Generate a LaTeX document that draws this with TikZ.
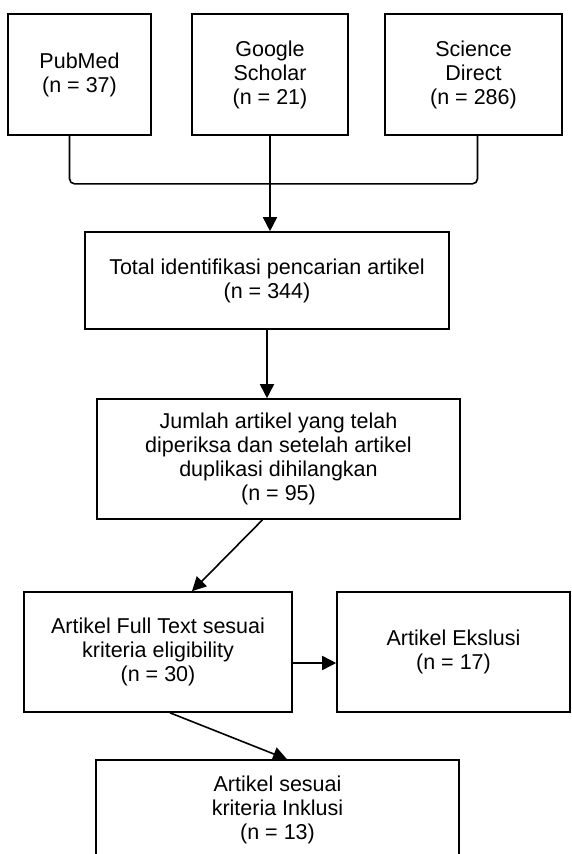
\documentclass[tikz,border=0pt]{standalone}
\usepackage{fontspec}
\setmainfont{Liberation Sans}
\usetikzlibrary{positioning,arrows.meta,calc}

\begin{document}
\begin{tikzpicture}[
  x=1pt, y=-1pt,
  every node/.style={font=\fontsize{21.5}{24}\selectfont},
  box/.style={
    draw, line width=1.6pt, align=center, inner sep=0pt,
    minimum height=121pt,
  },
  arrow/.style={-{Triangle[length=14pt,width=14pt]}, line width=1.6pt},
  bracket/.style={line width=1.6pt, rounded corners=5pt},
]
  \clip (0,0) rectangle (572,854);

  % sumber pencarian
  \node[box, minimum width=143pt] (pubmed)  at (79.5,74.5)  {PubMed\\(n = 37)};
  \node[box, minimum width=156pt] (google)  at (270,74.5)   {Google\\Scholar\\(n = 21)};
  \node[box, minimum width=177pt] (science) at (473.5,74.5) {Science\\Direct\\(n = 286)};

  \node[box, minimum width=364pt, minimum height=97pt]  (total)    at (267,280.5)
    {Total identifikasi pencarian artikel\\(n = 344)};
  \node[box, minimum width=363pt, minimum height=120pt] (jumlah)   at (278.5,459)
    {Jumlah artikel yang telah\\diperiksa dan setelah artikel\\duplikasi dihilangkan\\(n = 95)};
  \node[box, minimum width=268pt, minimum height=120pt] (fulltext) at (158,652)
    {Artikel Full Text sesuai\\kriteria eligibility\\(n = 30)};
  \node[box, minimum width=233pt, minimum height=120pt] (ekslusi)  at (453.5,652)
    {Artikel Ekslusi\\(n = 17)};
  \node[box, minimum width=363pt, minimum height=100pt] (inklusi)  at (277.5,810)
    {Artikel sesuai\\kriteria Inklusi\\(n = 13)};

  \draw[bracket] ([xshift=-10pt]pubmed.south) -- ++(0,48) -| ([xshift=4pt]science.south);
  \draw[arrow] (google.south) -- (google.south |- total.north);

  \draw[arrow] (total.south) -- (total.south |- jumlah.north);
  \draw[arrow] ([xshift=-16pt]jumlah.south) -- ([xshift=34pt]fulltext.north);
  \draw[arrow] ([yshift=-11pt]fulltext.east) -- ([yshift=-11pt]ekslusi.west);
  \draw[arrow] ([xshift=12pt]fulltext.south) -- ([xshift=9.5pt]inklusi.north);
\end{tikzpicture}
\end{document}
